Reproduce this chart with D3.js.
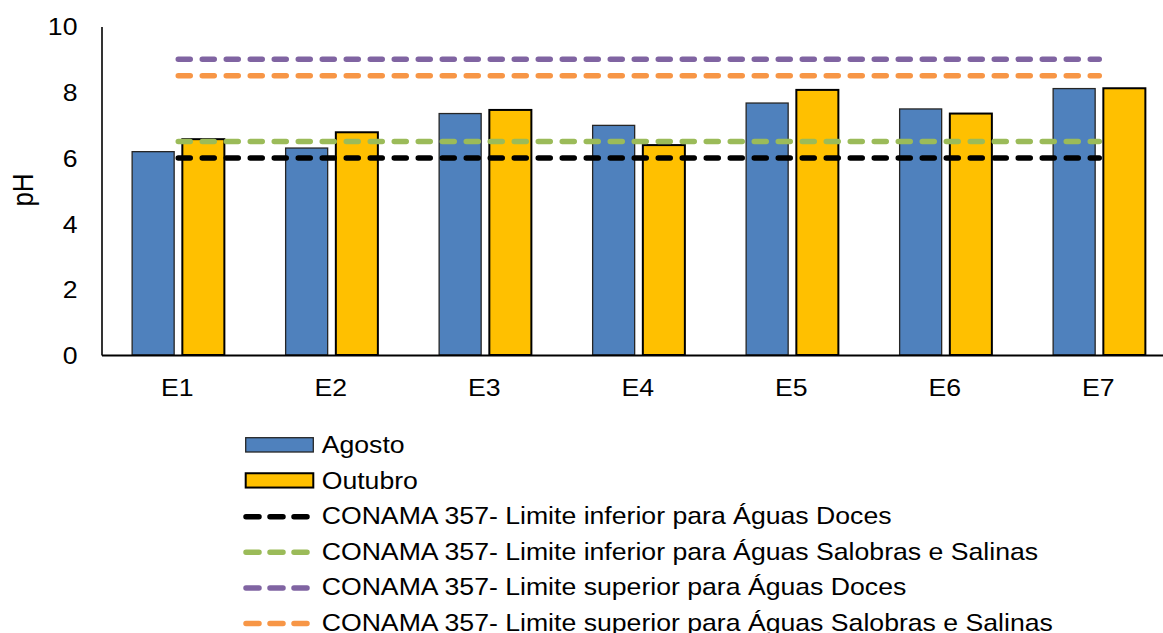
<!DOCTYPE html>
<html>
<head>
<meta charset="utf-8">
<script src="https://cdn.jsdelivr.net/npm/d3@7"></script>
<style>
  html, body { margin: 0; padding: 0; background: #fff; overflow: hidden; }
  svg { display: block; font-family: "Liberation Sans", Arial, sans-serif; }
</style>
</head>
<body>
<svg id="chart" width="1163" height="633"></svg>
<script>
// ---- data ----
const categories = ["E1", "E2", "E3", "E4", "E5", "E6", "E7"];
const agosto  = [6.19, 6.30, 7.35, 6.99, 7.67, 7.49, 8.11];
const outubro = [6.57, 6.78, 7.46, 6.39, 8.07, 7.35, 8.12];
const limInfDoces   = [6, 6, 6, 6, 6, 6, 6];
const limInfSalinas = [6.5, 6.5, 6.5, 6.5, 6.5, 6.5, 6.5];
const limSupDoces   = [9, 9, 9, 9, 9, 9, 9];
const limSupSalinas = [8.5, 8.5, 8.5, 8.5, 8.5, 8.5, 8.5];
const yTicks = [0, 2, 4, 6, 8, 10];
const barSeries = ["Agosto", "Outubro"];
const lineSeries = [
  "CONAMA 357- Limite inferior para Águas Doces",
  "CONAMA 357- Limite inferior para Águas Salobras e Salinas",
  "CONAMA 357- Limite superior para Águas Doces",
  "CONAMA 357- Limite superior para Águas Salobras e Salinas"
];

// ---- styling ----
const barColors = { "Agosto": "#4F81BD", "Outubro": "#FFC000" };
const barStroke = { "Agosto": "#262626", "Outubro": "#000000" };
const barStrokeW = { "Agosto": 1.3, "Outubro": 2 };
const lineColors = ["#000000", "#9BBB59", "#8064A2", "#F79646"];
const lineValues = [limInfDoces, limInfSalinas, limSupDoces, limSupSalinas];
const SX = 1.11; // horizontal text stretch

const svg = d3.select("#chart");

const plotLeft = 101.5, plotRight = 1176, plotTop = 26.5, plotBottom = 355;

const x0 = d3.scaleBand().domain(categories).range([plotLeft, plotRight]).padding(0);
const x1 = d3.scaleBand().domain(barSeries).range([0, x0.bandwidth()])
  .paddingInner(0.163).paddingOuter(0.61);
const y = d3.scaleLinear().domain([0, 10]).range([plotBottom, plotTop]);

// bars
const barData = [];
categories.forEach((c, i) => {
  barData.push({ cat: c, s: "Agosto", v: agosto[i] });
  barData.push({ cat: c, s: "Outubro", v: outubro[i] });
});
svg.append("g").selectAll("rect").data(barData).join("rect")
  .attr("x", d => x0(d.cat) + x1(d.s))
  .attr("y", d => y(d.v))
  .attr("width", x1.bandwidth())
  .attr("height", d => y(0) - y(d.v))
  .attr("fill", d => barColors[d.s])
  .attr("stroke", d => barStroke[d.s])
  .attr("stroke-width", d => barStrokeW[d.s]);

// dashed limit lines
const line = d3.line()
  .x((d, i) => x0(categories[i]) + x0.bandwidth() / 2)
  .y(d => y(d));
lineValues.forEach((vals, k) => {
  svg.append("path")
    .attr("d", line(vals))
    .attr("fill", "none")
    .attr("stroke", lineColors[k])
    .attr("stroke-width", 5.5)
    .attr("stroke-linecap", "round")
    .attr("stroke-dasharray", "12 12");
});

// y axis
const yAxis = svg.append("g")
  .attr("transform", `translate(${plotLeft},0)`)
  .call(d3.axisLeft(y).tickValues(yTicks).tickSize(0).tickPadding(0));
yAxis.select(".domain").attr("stroke", "#000").attr("stroke-width", 1.6);
yAxis.selectAll("text")
  .attr("x", 0).attr("dy", "0.35em")
  .attr("transform", `translate(-24,0) scale(${SX},1)`)
  .attr("font-size", 24).attr("font-family", "Liberation Sans, Arial, sans-serif")
  .attr("fill", "#000");

// x axis
const xAxis = svg.append("g")
  .attr("transform", `translate(0,${plotBottom})`)
  .call(d3.axisBottom(x0).tickSize(0).tickPadding(0));
xAxis.select(".domain").attr("stroke", "#000").attr("stroke-width", 2);
xAxis.selectAll("text")
  .attr("y", 0).attr("dy", 0)
  .attr("transform", `translate(-1,41) scale(${SX},1)`)
  .attr("font-size", 24).attr("font-family", "Liberation Sans, Arial, sans-serif")
  .attr("fill", "#000");

// y axis title
svg.append("text")
  .attr("transform", "translate(32.5,190) rotate(-90) scale(1,1.1)")
  .attr("text-anchor", "middle")
  .attr("font-size", 26)
  .attr("fill", "#000")
  .text("pH");

// legend
const legX = 245.7, legTextX = 321.7, legBase0 = 453, legStep = 35.55;
const legend = svg.append("g");
barSeries.forEach((s, i) => {
  const base = legBase0 + i * legStep;
  legend.append("rect")
    .attr("x", legX).attr("y", base - 15.3)
    .attr("width", 67.6).attr("height", 14.3)
    .attr("fill", barColors[s])
    .attr("stroke", barStroke[s])
    .attr("stroke-width", barStrokeW[s]);
  legend.append("text")
    .attr("transform", `translate(${legTextX},${base}) scale(${SX},1)`)
    .attr("font-size", 24).attr("fill", "#000")
    .text(s);
});
lineSeries.forEach((s, k) => {
  const base = legBase0 + (k + 2) * legStep;
  legend.append("line")
    .attr("x1", 246).attr("x2", 307)
    .attr("y1", base - 7.3).attr("y2", base - 7.3)
    .attr("stroke", lineColors[k])
    .attr("stroke-width", 5.5)
    .attr("stroke-linecap", "round")
    .attr("stroke-dasharray", "13 11");
  legend.append("text")
    .attr("transform", `translate(${legTextX},${base}) scale(${SX},1)`)
    .attr("font-size", 24).attr("fill", "#000")
    .text(s);
});
</script>
</body>
</html>
